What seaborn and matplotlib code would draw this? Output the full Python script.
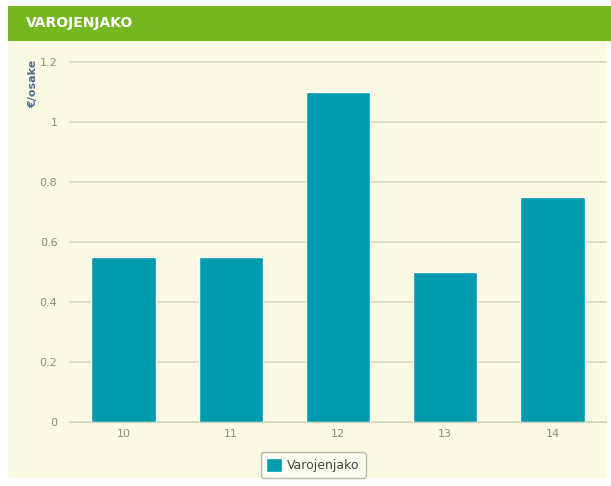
import pandas as pd
import numpy as np
import matplotlib
matplotlib.use("Agg")
import matplotlib.pyplot as plt
import seaborn as sns
from matplotlib.patches import Rectangle

# data
years = ["10", "11", "12", "13", "14"]
dividend = [0.55, 0.55, 1.1, 0.5, 0.75]
y_ticks = [0, 0.2, 0.4, 0.6, 0.8, 1.0, 1.2]
y_tick_labels = ["0", "0.2", "0.4", "0.6", "0.8", "1", "1.2"]

df = pd.DataFrame({"vuosi": years, "Varojenjako": dividend})

sns.set_style("white")
plt.rcParams['font.family'] = ['DejaVu Sans']

bar_color = "#009BAF"
grid_color = "#D5D4C0"
text_grey = "#8A8A80"

fig = plt.figure(figsize=(6.11, 4.86), dpi=100)
fig.patch.set_facecolor("white")

# cream panel and green header (behind the axes)
fig.patches.append(Rectangle((8/611, 1 - 478/486), 599/611, 437/486,
                             transform=fig.transFigure, facecolor="#FCFAE2",
                             edgecolor="none", zorder=-10))
fig.patches.append(Rectangle((8/611, 1 - 41/486), 603/611, 35/486,
                             transform=fig.transFigure, facecolor="#74B720",
                             edgecolor="none", zorder=-10))
fig.text(26/611, 1 - 23/486, "VAROJENJAKO", color="white", fontsize=10,
         fontweight="bold", va="center", ha="left")

ax = fig.add_axes([70/611, 1 - 422/486, 536/611, 360/486])
ax.set_facecolor("none")

sns.barplot(data=df, x="vuosi", y="Varojenjako", color=bar_color,
            width=0.6, saturation=1, label="Varojenjako", ax=ax, zorder=3)

ax.set_ylim(0, 1.2)
ax.set_xlim(-0.5, 4.5)
ax.set_yticks(y_ticks)
ax.set_yticklabels(y_tick_labels)
ax.yaxis.grid(True, color=grid_color, linewidth=1.1)
for gl in ax.get_ygridlines():
    gl.set_clip_on(False)
ax.set_axisbelow(True)
for s in ["top", "right", "left"]:
    ax.spines[s].set_visible(False)
ax.spines["bottom"].set_color(grid_color)
ax.tick_params(axis="both", length=0, labelsize=8, labelcolor=text_grey)
ax.tick_params(axis="y", pad=9)
ax.tick_params(axis="x", pad=5)
ax.set_xlabel("")
ax.set_ylabel("")

fig.text(33/611, 1 - 60/486, "€/osake", rotation=90, va="top", ha="center",
         fontsize=8, fontweight="bold", color="#4F6E96")

leg = ax.legend(loc="center", bbox_to_anchor=(313/611, 1 - 465/486),
                bbox_transform=fig.transFigure, frameon=True, fontsize=9,
                handlelength=1.3, handleheight=1.3, handletextpad=0.4,
                borderpad=0.45, fancybox=True)
leg.get_frame().set_edgecolor("#B8B8B0")
leg.get_frame().set_facecolor("#FDFCF0")
leg.get_frame().set_alpha(1)
for t in leg.get_texts():
    t.set_color("#444444")

fig.savefig("out.png", dpi=100)
